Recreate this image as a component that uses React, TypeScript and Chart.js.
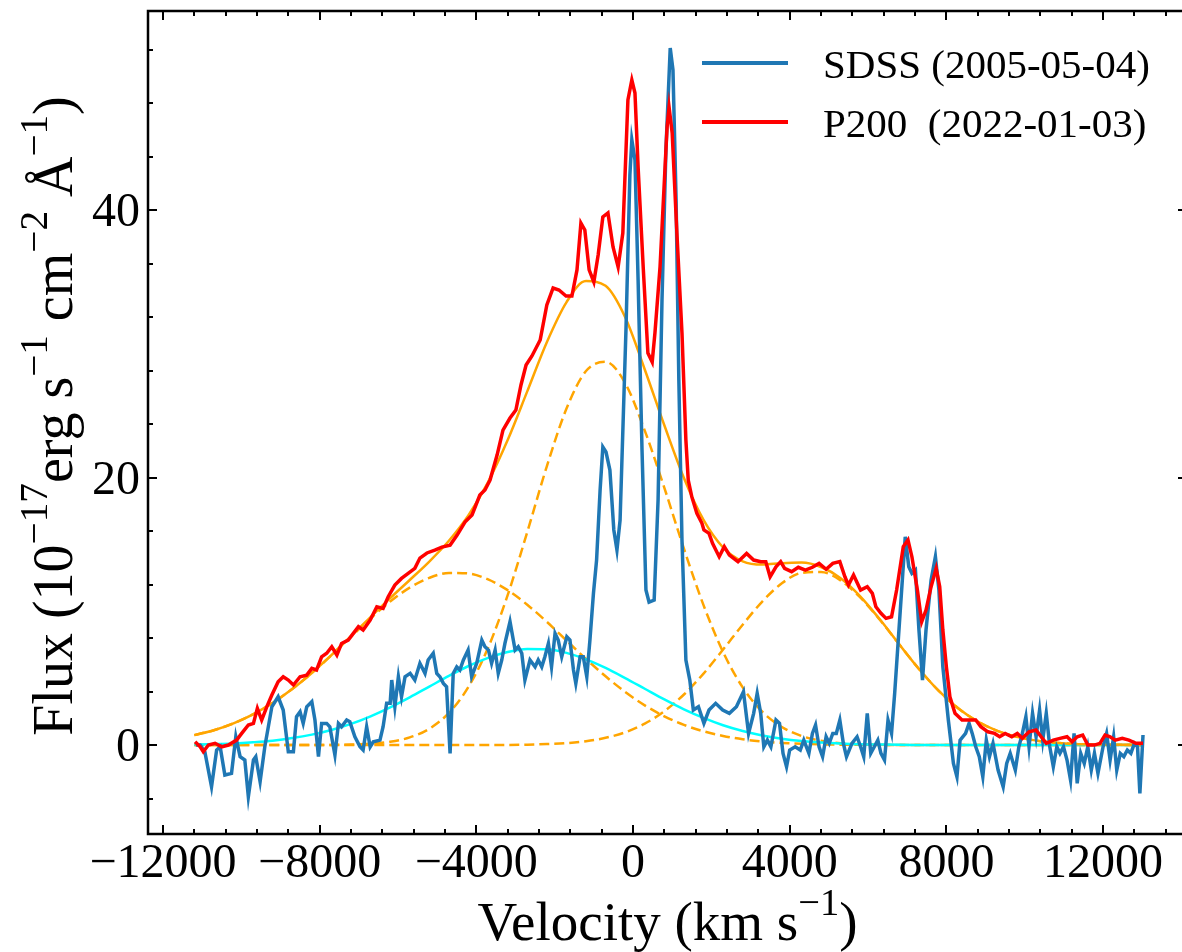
import React, { useEffect, useRef } from "react";
import { Chart, registerables } from "chart.js";

Chart.register(...registerables);

// ---------- data ----------
const VEL_SDSS = [
  -11160,-11050,-10930,-10760,-10630,-10540,-10420,-10250,-10140,-10030,
  -9910,-9820,-9690,-9630,-9520,-9400,-9220,-9060,-8930,-8800,
  -8670,-8590,-8500,-8420,-8330,-8200,-8120,-8030,-7950,-7820,
  -7740,-7610,-7520,-7440,-7310,-7230,-7100,-6970,-6890,-6800,
  -6710,-6630,-6460,-6380,-6290,-6200,-6160,-6080,-5990,-5910,
  -5820,-5690,-5570,-5440,-5310,-5230,-5100,-5010,-4930,-4840,
  -4760,-4670,-4590,-4500,-4420,-4330,-4210,-4120,-3990,-3860,
  -3780,-3690,-3610,-3520,-3440,-3350,-3270,-3140,-3010,-2930,
  -2840,-2760,-2630,-2500,-2420,-2330,-2250,-2160,-2080,-1990,
  -1910,-1820,-1690,-1610,-1520,-1460,-1350,-1270,-1180,-1100,
  -1010,-930,-840,-770,-690,-590,-490,-410,-330,-180,
  -80,-30,50,130,230,330,410,540,640,740,
  840,950,1020,1100,1170,1250,1350,1450,1540,1670,
  1810,1940,2110,2290,2460,2640,2820,2950,3080,3170,
  3260,3340,3430,3520,3650,3740,3830,3920,4000,4140,
  4270,4360,4490,4580,4660,4750,4840,4930,5010,5100,
  5190,5280,5370,5450,5590,5720,5810,5890,5980,6070,
  6160,6250,6330,6420,6510,6600,6680,
  6950,7040,7120,7210,7300,7390,7480,7610,7720,7810,7910,8050,
  8180,8270,8350,8490,8580,8660,8750,8840,8930,9020,
  9100,9190,9320,9450,9540,9630,9760,9850,9940,10030,
  10110,10200,10290,10380,10460,10550,10640,10730,10820,10900,
  10990,11080,11170,11260,11340,11430,11520,11610,11700,11780,
  11870,12000,12090,12180,12270,12350,12440,12530,12620,12710,
  12800,12880,12940,13020,
];
const FLUX_SDSS = [
  0.00,0.00,-0.52,-3.12,-0.37,-0.13,-2.24,-2.12,0.62,-0.87,
  -1.12,-3.87,-1.12,-0.87,-2.74,-0.13,2.86,3.61,2.62,-0.50,
  -0.50,2.12,2.49,1.62,2.86,3.24,1.87,-0.87,1.62,1.62,
  1.37,-0.75,1.62,1.37,1.87,1.74,0.62,-0.13,-0.37,1.37,
  -0.13,0.25,0.37,1.37,3.12,3.12,4.86,2.86,5.11,3.61,
  5.11,5.36,4.86,6.11,5.36,6.36,6.86,5.36,5.11,4.61,
  4.36,-0.62,5.36,5.85,5.61,6.36,7.10,5.11,6.11,7.85,
  7.35,7.10,6.11,7.10,5.36,6.36,7.60,9.22,7.10,7.35,
  6.86,4.86,6.36,5.85,6.36,5.85,6.60,7.60,5.85,8.35,
  7.85,6.60,8.10,7.85,5.61,4.61,6.60,6.60,5.11,7.85,
  11.34,13.83,19.07,22.28,21.91,20.56,16.08,14.58,16.82,31.03,
  42.62,45.24,43.74,34.77,22.06,11.59,10.69,10.84,18.32,33.27,
  44.49,52.11,50.47,40.75,27.29,15.33,6.36,4.86,2.62,2.86,
  1.62,2.62,3.12,2.62,2.37,2.86,3.99,0.87,2.37,3.87,
  2.37,-0.13,0.37,-0.13,1.87,1.62,-0.62,-1.62,-0.37,-0.13,
  -0.37,0.37,-0.62,0.87,1.50,-0.13,-0.87,0.62,0.13,0.87,
  0.87,1.87,0.13,-0.87,0.13,0.62,-0.13,-0.87,2.37,-0.62,
  -0.13,0.37,-0.62,-1.12,1.87,0.87,3.87,
  15.57,13.33,12.84,13.08,8.60,4.86,8.60,12.34,14.08,11.59,5.85,1.87,
  -1.37,-2.37,0.37,0.87,1.62,0.87,-0.13,-0.87,-2.37,0.37,
  -0.87,0.13,-1.87,-3.12,-1.37,-0.62,-1.87,-0.13,0.87,2.12,
  -0.13,2.37,0.62,2.62,0.37,2.37,-0.13,-1.62,-0.13,-0.62,
  -0.13,-1.12,-2.62,0.87,-2.86,-0.62,-1.37,-0.13,-1.87,-0.62,
  -2.12,-0.13,0.87,-1.12,0.62,-1.87,-0.62,-0.87,-0.37,-0.62,
  0.13,-0.13,-3.61,0.75,
];

const VEL_P200 = [
  -11180,-11050,-10970,-10840,-10670,-10500,-10330,-10120,-9990,-9820,
  -9690,-9590,-9480,-9350,-9220,-9060,-8930,-8800,-8670,-8500,
  -8330,-8200,-8080,-7950,-7820,-7690,-7560,-7440,-7270,-7140,
  -7010,-6890,-6710,-6540,-6380,-6250,-6080,-5910,-5740,-5570,
  -5440,-5260,-5060,-4880,-4670,-4490,-4290,-4110,-3910,-3780,
  -3650,-3470,-3320,-3140,-2990,-2860,-2730,-2580,-2370,-2200,
  -2040,-1890,-1710,-1560,-1430,-1330,-1230,-1120,-1000,-890,
  -770,-640,-510,-380,-260,-130,-30,50,130,260,
  380,490,560,690,870,920,1000,1120,1250,1350,
  1410,1500,1630,1760,1810,1940,2030,2200,2330,2460,
  2680,2900,3080,3260,3390,3500,3650,3770,3870,4050,
  4220,4400,4580,4750,4930,5100,5280,5410,5500,5630,
  5810,5980,6110,6200,6330,6460,6600,6730,6900,7020,
  7120,7260,7370,7480,7610,7740,7830,7910,8000,8090,
  8220,8400,8580,8750,8880,9060,9230,9360,9500,9670,
  9810,9940,10110,10290,10420,10550,10730,10900,11080,11210,
  11340,11480,11610,11780,11920,12050,12180,12310,12490,12660,
  12840,13020,
];
const FLUX_P200 = [
  0.25,-0.13,-0.50,0.00,0.13,-0.13,0.00,0.37,0.87,1.50,
  1.62,2.74,1.87,2.86,3.74,4.73,5.11,4.86,4.49,5.11,
  5.23,5.73,5.61,6.60,6.86,7.35,6.73,7.60,7.85,8.35,
  8.85,8.60,9.35,10.34,10.22,11.09,11.96,12.46,12.84,13.21,
  13.98,14.36,14.58,14.80,14.95,15.70,16.67,17.20,18.69,19.07,
  19.81,21.68,23.55,24.45,25.05,26.92,28.41,29.09,30.28,32.90,
  34.17,34.02,33.57,33.57,35.52,39.03,38.51,35.52,34.62,36.64,
  39.48,39.78,37.24,35.74,38.28,48.23,49.72,48.75,43.22,35.74,
  29.31,28.64,30.81,35.74,46.21,47.70,45.76,38.28,30.81,22.80,
  19.81,18.57,17.32,16.58,16.08,15.83,15.08,14.08,14.83,14.21,
  13.71,14.33,13.83,13.71,13.71,12.58,13.33,13.71,13.21,12.96,
  13.29,13.08,13.29,13.58,13.14,13.58,13.71,12.58,11.96,12.71,
  11.59,11.84,11.34,10.34,9.85,9.47,9.59,11.59,14.83,15.33,
  14.08,11.59,9.22,10.09,11.84,13.21,11.84,8.60,5.85,3.61,
  2.37,1.87,1.87,1.87,1.37,0.99,0.87,0.62,0.87,0.62,
  0.87,0.50,0.99,1.12,0.62,0.13,0.37,0.50,0.62,0.25,
  0.62,0.75,0.00,0.00,0.13,0.75,0.62,0.37,0.50,0.37,
  0.13,0.13,
];

// Gaussian fit curves at fixed velocities
const VEL_FIT = [
  -11200,-10700,-10200,-9700,-9200,-8700,-8200,-7700,-7200,-6700,
  -6200,-5700,-5200,-4700,-4200,-3700,-3200,-2700,-2200,-1700,
  -1200,-700,-200,300,800,1300,1800,2300,2800,3300,
  3800,4300,4800,5300,5800,6300,6800,7300,7800,8300,
  8800,9300,9800,10300,10800,11300,11800,12300,12800,13000,
];
const FIT_TOTAL = [
  0.74,1.11,1.62,2.30,3.15,4.19,5.39,6.72,8.14,9.57,
  10.98,12.34,13.72,15.27,17.18,19.66,22.80,26.44,30.12,33.10,
  34.69,34.33,31.98,28.08,23.91,19.97,16.83,14.77,13.74,13.49,
  13.60,13.64,13.31,12.47,11.12,9.40,7.52,5.69,4.07,2.75,
  1.76,1.06,0.61,0.33,0.17,0.08,0.04,0.02,0.01,0.00,
];
const FIT_BLUE_WING = [
  0.74,1.11,1.62,2.30,3.15,4.19,5.39,6.71,8.10,9.47,
  10.73,11.77,12.50,12.87,12.83,12.38,11.58,10.49,9.21,7.82,
  6.44,5.14,3.97,2.97,2.15,1.51,1.03,0.68,0.43,0.27,
  0.16,0.09,0.05,0.03,0.02,0.01,0,0,0,0,
  0,0,0,0,0,0,0,0,0,0,
];
const FIT_CORE = [
  0,0,0,0,0,0,0,0.01,0.04,0.10,
  0.25,0.57,1.22,2.40,4.35,7.27,11.21,15.92,20.84,25.14,
  27.96,28.65,27.06,23.51,19.23,14.68,10.46,6.95,4.31,2.49,
  1.35,0.68,0.32,0.14,0.06,0.02,0.01,0,0,0,
  0,0,0,0,0,0,0,0,0,0,
];
const FIT_RED_WING = [
  0,0,0,0,0,0,0,0,0,0,
  0,0,0,0,0,0.01,0.01,0.03,0.07,0.14,
  0.29,0.54,0.95,1.60,2.53,3.78,5.34,7.14,9.00,10.73,
  12.09,12.87,12.94,12.30,11.04,9.37,7.51,5.69,4.07,2.75,
  1.76,1.06,0.61,0.33,0.17,0.08,0.04,0.02,0.01,0,
];
const FIT_SDSS = [
  0.04,0.07,0.12,0.21,0.33,0.52,0.78,1.13,1.58,2.15,
  2.82,3.57,4.37,5.17,5.91,6.52,6.96,7.18,7.16,6.89,
  6.41,5.77,5.01,4.21,3.41,2.67,2.03,1.48,1.05,0.72,
  0.47,0.30,0.19,0.11,0.06,0.04,0.02,0.01,0,0,
  0,0,0,0,0,0,0,0,0,0,
];

const X_MAJOR = [-12000, -8000, -4000, 0, 4000, 8000, 12000];
const Y_MAJOR = [0, 20, 40];
const LEGEND_LABELS = ["SDSS (2005-05-04)", "P200  (2022-01-03)"];

// ---------- layout ----------
const W = 1200;
const H = 952;
const AREA = { left: 148, top: 11, right: 1187, bottom: 834 };
const X_MIN = -12382;
const X_MAX = 14143;
const Y_MIN = -6.65;
const Y_MAX = 54.88;
const SERIF = '"Liberation Serif", "Times New Roman", serif';

const BLUE = "#1f77b4";
const RED = "#ff0000";
const ORANGE = "#ffa500";
const CYAN = "#00ffff";

const pts = (xs: number[], ys: number[]) => xs.map((x, i) => ({ x, y: ys[i] }));
const fmt = (v: number) => (v < 0 ? "\u2212" + Math.abs(v) : String(v));

type Part = { t: string; sup?: boolean };

function drawRich(ctx: CanvasRenderingContext2D, parts: Part[], cx: number, baseline: number, size: number) {
  const supSize = size * 0.7;
  const raise = size * 0.45;
  let total = 0;
  const widths = parts.map((p) => {
    ctx.font = `${p.sup ? supSize : size}px ${SERIF}`;
    const w = ctx.measureText(p.t).width;
    total += w;
    return w;
  });
  let x = cx - total / 2;
  ctx.textAlign = "left";
  ctx.textBaseline = "alphabetic";
  parts.forEach((p, i) => {
    ctx.font = `${p.sup ? supSize : size}px ${SERIF}`;
    ctx.fillText(p.t, x, p.sup ? baseline - raise : baseline);
    x += widths[i];
  });
}

const axesPlugin = {
  id: "mplAxes",
  afterDatasetsDraw(chart: any) {
    const { ctx, chartArea: a, scales } = chart;
    const xs = scales.x;
    const ys = scales.y;
    ctx.save();
    ctx.strokeStyle = "#000";
    ctx.fillStyle = "#000";

    // ticks (inward, all four sides)
    ctx.lineWidth = 2;
    const xTick = (v: number, len: number) => {
      const px = Math.round(xs.getPixelForValue(v));
      ctx.beginPath();
      ctx.moveTo(px, a.bottom);
      ctx.lineTo(px, a.bottom - len);
      ctx.moveTo(px, a.top);
      ctx.lineTo(px, a.top + len);
      ctx.stroke();
    };
    const yTick = (v: number, len: number) => {
      const py = Math.round(ys.getPixelForValue(v));
      ctx.beginPath();
      ctx.moveTo(a.left, py);
      ctx.lineTo(a.left + len, py);
      ctx.moveTo(a.right, py);
      ctx.lineTo(a.right - len, py);
      ctx.stroke();
    };
    for (let v = -12000; v <= X_MAX; v += 800) {
      if (v < X_MIN) continue;
      if (X_MAJOR.includes(v)) xTick(v, 9);
      else xTick(v, 5);
    }
    for (let v = -4; v <= Y_MAX; v += 4) {
      if (Y_MAJOR.includes(v)) yTick(v, 9);
      else yTick(v, 5);
    }

    // spines
    ctx.lineWidth = 2.5;
    ctx.strokeRect(a.left, a.top, a.right - a.left, a.bottom - a.top);

    // tick labels
    ctx.font = `48px ${SERIF}`;
    ctx.textBaseline = "alphabetic";
    ctx.textAlign = "center";
    X_MAJOR.forEach((v) => ctx.fillText(fmt(v), xs.getPixelForValue(v), 877));
    ctx.textAlign = "right";
    Y_MAJOR.forEach((v) => ctx.fillText(fmt(v), a.left - 8, ys.getPixelForValue(v) + 16));

    // axis titles
    drawRich(ctx, [{ t: "Velocity (km s" }, { t: "\u22121", sup: true }, { t: ")" }], (a.left + a.right) / 2, 940, 55);
    ctx.save();
    ctx.translate(72, 416);
    ctx.rotate(-Math.PI / 2);
    drawRich(
      ctx,
      [
        { t: "Flux (10" },
        { t: "\u221217", sup: true },
        { t: "erg s" },
        { t: "\u22121", sup: true },
        { t: " cm" },
        { t: "\u22122", sup: true },
        { t: " \u00c5" },
        { t: "\u22121", sup: true },
        { t: ")" },
      ],
      0,
      0,
      56
    );
    ctx.restore();

    // legend
    const rows = [
      { color: BLUE, y: 63, label: LEGEND_LABELS[0] },
      { color: RED, y: 122, label: LEGEND_LABELS[1] },
    ];
    ctx.font = `41px ${SERIF}`;
    ctx.textAlign = "left";
    ctx.textBaseline = "alphabetic";
    rows.forEach((r) => {
      ctx.strokeStyle = r.color;
      ctx.lineWidth = 4;
      ctx.beginPath();
      ctx.moveTo(702, r.y);
      ctx.lineTo(788, r.y);
      ctx.stroke();
      ctx.fillStyle = "#000";
      ctx.fillText(r.label, 823, r.y + 15);
    });
    ctx.restore();
  },
};

export default function App() {
  const ref = useRef<HTMLCanvasElement | null>(null);

  useEffect(() => {
    const canvas = ref.current;
    if (!canvas) return;
    const fitLine = (data: number[], color: string, dashed: boolean, order: number) => ({
      data: pts(VEL_FIT, data),
      borderColor: color,
      borderWidth: 2.5,
      borderDash: dashed ? [10, 5] : [],
      showLine: true,
      pointRadius: 0,
      fill: false,
      cubicInterpolationMode: "monotone" as const,
      order,
    });
    const chart = new Chart(canvas, {
      type: "scatter",
      data: {
        datasets: [
          {
            label: LEGEND_LABELS[1],
            data: pts(VEL_P200, FLUX_P200),
            borderColor: RED,
            borderWidth: 3.5,
            showLine: true,
            pointRadius: 0,
            tension: 0,
            fill: false,
            order: 0,
          },
          {
            label: LEGEND_LABELS[0],
            data: pts(VEL_SDSS, FLUX_SDSS),
            borderColor: BLUE,
            borderWidth: 3.5,
            showLine: true,
            pointRadius: 0,
            tension: 0,
            fill: false,
            order: 1,
          },
          fitLine(FIT_TOTAL, ORANGE, false, 2),
          fitLine(FIT_SDSS, CYAN, false, 3),
          fitLine(FIT_BLUE_WING, ORANGE, true, 4),
          fitLine(FIT_CORE, ORANGE, true, 5),
          fitLine(FIT_RED_WING, ORANGE, true, 6),
        ] as any,
      },
      options: {
        responsive: false,
        animation: false,
        devicePixelRatio: 1,
        events: [],
        layout: {
          padding: { left: AREA.left, top: AREA.top, right: W - AREA.right, bottom: H - AREA.bottom },
        },
        plugins: { legend: { display: false }, tooltip: { enabled: false } },
        scales: {
          x: { type: "linear", min: X_MIN, max: X_MAX, display: false },
          y: { type: "linear", min: Y_MIN, max: Y_MAX, display: false },
        },
      },
      plugins: [axesPlugin],
    });
    return () => chart.destroy();
  }, []);

  return (
    <div
      style={{
        position: "fixed",
        left: 0,
        top: 0,
        width: 1182,
        height: 952,
        overflow: "hidden",
        background: "#fff",
      }}
    >
      <canvas ref={ref} width={W} height={H} style={{ width: W, height: H, display: "block" }} />
    </div>
  );
}
